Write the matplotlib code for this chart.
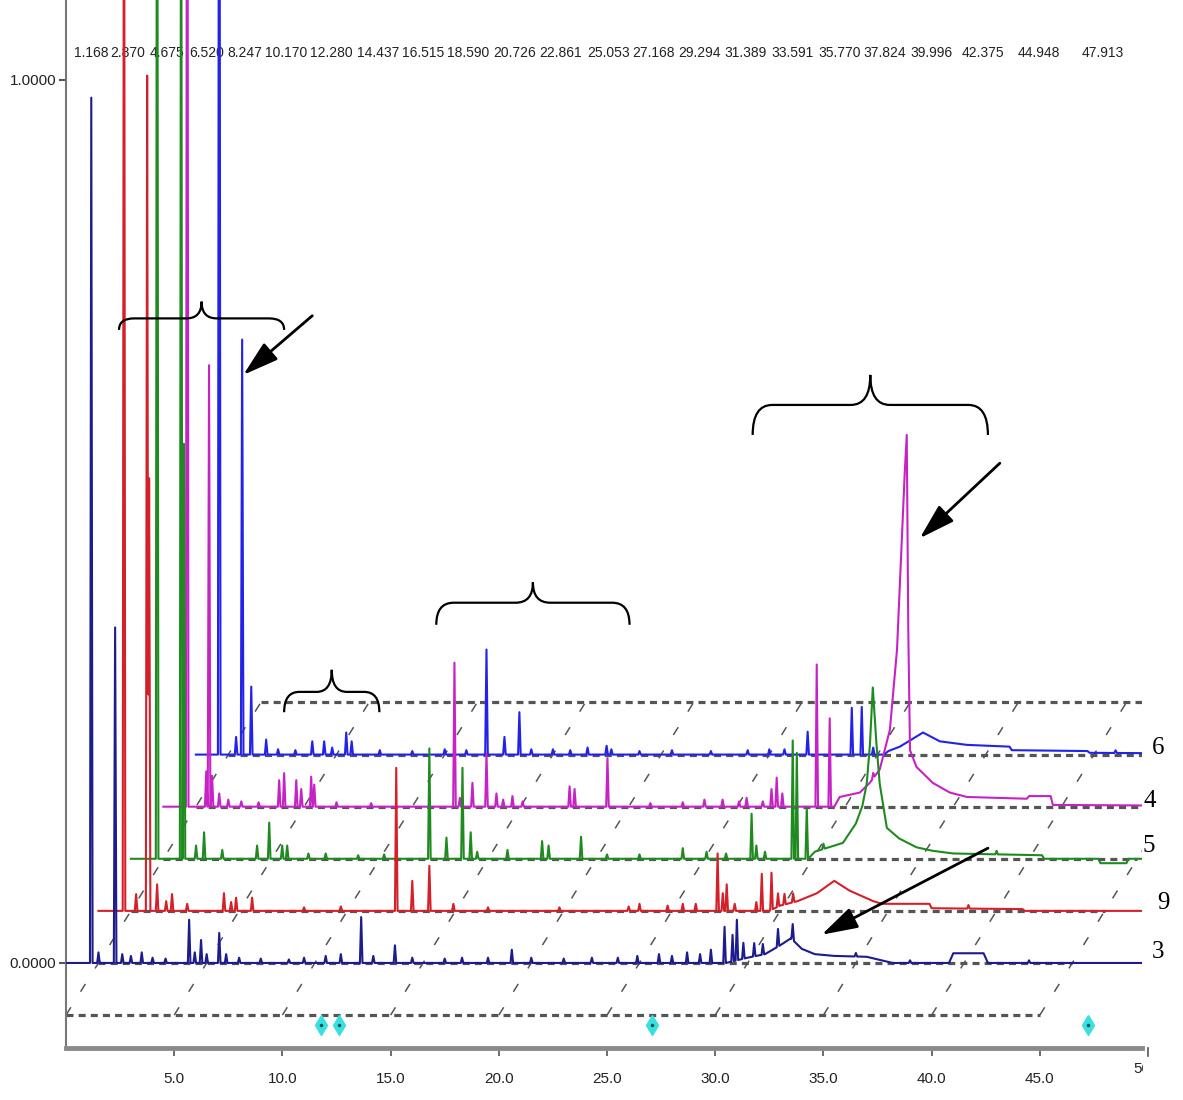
"""
Stacked GC chromatograms of five samples (3, 9, 5, 4, 6) drawn as a
pseudo-3D overlay: each run is shifted right and up from the one in front.
"""

import numpy as np
import matplotlib.pyplot as plt
from matplotlib.path import Path
from matplotlib.patches import PathPatch
from matplotlib.transforms import Bbox, TransformedBbox

plt.rcParams['font.family'] = ['Liberation Sans', 'DejaVu Sans']

# retention-time labels printed along the top
rt_labels = ['1.168', '2.870', '4.675', '6.520', '8.247', '10.170', '12.280',
             '14.437', '16.515', '18.590', '20.726', '22.861', '25.053',
             '27.168', '29.294', '31.389', '33.591', '35.770', '37.824',
             '39.996', '42.375', '44.948', '47.913']

sample_names = ['3', '9', '5', '4', '6']
sample_colors = ['#1c1c8e', '#d42028', '#1f8a1f', '#c622c6', '#2222e8']
# where each sample number sits right of the frame (min, lift above baseline)
name_x = [50.45, 50.7, 50.05, 50.1, 50.45]
name_dy = [0.012, 0.009, 0.015, 0.006, 0.008]

# --- sample 3 -------------------------------------------------------------
s3_peak_t = [1.168, 1.5, 2.27, 2.6, 3.0, 3.5, 4.0, 4.6, 5.69, 5.95, 6.24, 6.5,
             7.08, 7.4, 8.0, 9.0, 10.3, 11.0, 12.0, 12.7, 13.64, 14.2, 15.2,
             16.0, 17.5, 18.3, 19.5, 20.6, 21.5, 23.0, 24.3, 25.5, 26.4, 27.4,
             28.0, 28.7, 29.3, 29.8, 30.43, 30.8, 31.0, 31.3, 31.8, 32.2,
             32.9, 33.58, 36.5, 39.0, 44.5]
s3_peak_h = [0.98, 0.012, 0.38, 0.01, 0.008, 0.012, 0.006, 0.005, 0.049, 0.012,
             0.026, 0.01, 0.034, 0.01, 0.006, 0.005, 0.004, 0.006, 0.008, 0.01,
             0.052, 0.008, 0.02, 0.006, 0.005, 0.006, 0.006, 0.015, 0.006,
             0.005, 0.006, 0.006, 0.008, 0.01, 0.008, 0.012, 0.01, 0.015,
             0.041, 0.03, 0.046, 0.018, 0.015, 0.012, 0.02, 0.018, 0.004,
             0.003, 0.003]
s3_base_t = [0, 30.5, 31.5, 32.3, 33.0, 33.5, 34.0, 34.6, 35.5, 37.0, 38.2,
             40.8, 41.0, 42.4, 42.6, 55]
s3_base_v = [0, 0, 0.006, 0.01, 0.02, 0.028, 0.016, 0.01, 0.008, 0.007, 0.0,
             0.0, 0.011, 0.011, 0.0, 0]

# --- sample 9 -------------------------------------------------------------
s9_peak_t = [1.18, 1.74, 2.25, 2.34, 2.71, 3.13, 3.4, 4.1, 5.8, 6.13, 6.36,
             7.1, 9.5, 11.2, 13.76, 14.5, 15.29, 16.4, 18.0, 21.3, 24.5, 25.0,
             26.3, 27.0, 27.6, 28.61, 28.85, 29.03, 29.4, 30.4, 30.65, 31.1,
             31.4, 31.7, 32.1, 40.2]
s9_peak_h = [1.4, 0.019, 0.946, 0.49, 0.03, 0.011, 0.019, 0.008, 0.02, 0.01,
             0.015, 0.015, 0.004, 0.005, 0.162, 0.034, 0.051, 0.008, 0.004,
             0.004, 0.005, 0.008, 0.006, 0.008, 0.008, 0.065, 0.02, 0.03,
             0.008, 0.01, 0.042, 0.042, 0.015, 0.012, 0.01, 0.004]
s9_base_t = [0, 31.0, 31.5, 32.3, 33.2, 34.0, 34.7, 35.8, 36.2, 38.4, 38.5,
             42.7, 42.8, 55]
s9_base_v = [0, 0, 0.006, 0.011, 0.02, 0.034, 0.023, 0.011, 0.008, 0.008,
             0.003, 0.002, 0, 0]

# --- sample 5 -------------------------------------------------------------
s5_peak_t = [1.21, 2.32, 2.45, 3.01, 3.38, 4.22, 5.83, 6.39, 6.99, 7.22, 8.2,
             9.0, 10.5, 11.7, 13.79, 14.58, 15.32, 15.7, 16.0, 17.4, 19.0,
             19.3, 20.8, 22.0, 23.5, 25.5, 26.6, 27.5, 28.68, 28.9, 29.3,
             30.58, 30.77, 31.23, 32.0, 40.0]
s5_peak_h = [1.5, 1.3, 0.47, 0.015, 0.03, 0.01, 0.015, 0.041, 0.015, 0.015,
             0.006, 0.006, 0.004, 0.005, 0.125, 0.024, 0.103, 0.03, 0.008,
             0.01, 0.02, 0.015, 0.025, 0.005, 0.005, 0.012, 0.008, 0.006,
             0.051, 0.015, 0.008, 0.134, 0.12, 0.058, 0.006, 0.004]
s5_base_t = [0, 31.3, 31.6, 32.9, 33.5, 33.8, 34.0, 34.15, 34.28, 34.45, 34.6,
             34.93, 35.5, 36.3, 37.05, 38.0, 42.1, 42.2, 44.7, 44.8, 46.0,
             46.1, 55]
s5_base_v = [0, 0, 0.008, 0.018, 0.04, 0.06, 0.085, 0.13, 0.194, 0.13, 0.085,
             0.035, 0.023, 0.013, 0.009, 0.006, 0.004, 0, 0, -0.005, -0.005,
             0, 0]

# --- sample 4 -------------------------------------------------------------
s4_peak_t = [1.1, 1.98, 2.11, 2.25, 2.58, 3.0, 3.6, 4.4, 5.35, 5.58, 6.14,
             6.37, 6.83, 6.97, 8.0, 9.6, 13.45, 13.7, 14.28, 14.93, 15.39,
             15.7, 16.13, 16.6, 18.77, 19.0, 20.52, 22.5, 24.0, 25.0, 25.84,
             26.6, 26.95, 27.7, 28.1, 28.34, 28.6, 30.19, 30.79, 32.8]
s4_peak_h = [1.5, 0.04, 0.5, 0.035, 0.015, 0.008, 0.006, 0.005, 0.03, 0.038,
             0.03, 0.02, 0.034, 0.025, 0.005, 0.004, 0.163, 0.01, 0.027, 0.06,
             0.015, 0.008, 0.012, 0.006, 0.023, 0.02, 0.055, 0.004, 0.005,
             0.008, 0.008, 0.006, 0.01, 0.006, 0.02, 0.033, 0.015, 0.161,
             0.1, 0.006]
s4_base_t = [0, 31.0, 31.25, 32.18, 32.64, 33.1, 33.57, 33.9, 34.1, 34.26,
             34.35, 34.42, 34.5, 34.8, 35.55, 36.34, 37.13, 39.9, 40.0, 41.0,
             41.1, 55]
s4_base_v = [0, 0, 0.011, 0.016, 0.027, 0.042, 0.087, 0.178, 0.29, 0.38,
             0.421, 0.2, 0.064, 0.045, 0.027, 0.016, 0.011, 0.009, 0.012,
             0.012, 0.002, 0]

# --- sample 6 -------------------------------------------------------------
s6_peak_t = [1.08, 1.86, 2.14, 2.56, 3.25, 3.8, 4.6, 5.38, 5.93, 6.3, 6.95,
             7.2, 8.5, 10.0, 11.5, 12.5, 13.43, 14.26, 14.95, 15.5, 16.5,
             17.3, 18.1, 18.98, 19.2, 20.5, 22.0, 23.8, 25.5, 26.5, 27.2,
             28.27, 30.31, 30.77, 31.3, 42.5]
s6_peak_h = [1.5, 0.02, 0.47, 0.077, 0.017, 0.006, 0.005, 0.015, 0.015,
             0.008, 0.025, 0.015, 0.005, 0.004, 0.006, 0.005, 0.119, 0.02,
             0.048, 0.006, 0.006, 0.005, 0.008, 0.01, 0.006, 0.004, 0.005,
             0.004, 0.005, 0.006, 0.006, 0.026, 0.053, 0.054, 0.008, 0.003]
s6_base_t = [0, 31.8, 32.0, 32.53, 33.0, 33.6, 34.38, 35.63, 37.6, 37.7,
             41.2, 41.3, 55]
s6_base_v = [0, 0, 0.004, 0.009, 0.016, 0.025, 0.015, 0.011, 0.009, 0.005,
             0.004, 0.002, 0]

samples = [
    (s3_base_t, s3_base_v, s3_peak_t, s3_peak_h),
    (s9_base_t, s9_base_v, s9_peak_t, s9_peak_h),
    (s5_base_t, s5_base_v, s5_peak_t, s5_peak_h),
    (s4_base_t, s4_base_v, s4_peak_t, s4_peak_h),
    (s6_base_t, s6_base_v, s6_peak_t, s6_peak_h),
]

# internal-standard markers under the plot
marker_t = [11.79, 12.63, 27.06, 47.23]

x_step = 1.5     # min, shift between successive runs
y_step = 0.059   # response units, lift between successive runs
half_width = 0.06


def build_trace(base_t, base_v, peak_t, peak_h, w=half_width):
    pt = np.asarray(peak_t, float)
    ph = np.asarray(peak_h, float)
    knots = np.unique(np.concatenate([base_t, pt - w, pt, pt + w]))
    knots = knots[knots >= 0]
    level = np.interp(knots, base_t, base_v)
    for t0, h in zip(pt, ph):
        level += h * np.clip(1 - np.abs(knots - t0) / w, 0, None)
    return knots, level


def brace(ax, x0, x1, y_end, y_bar, y_tip, r):
    xm = (x0 + x1) / 2
    verts = [(x0, y_end), (x0, y_bar), (x0 + r, y_bar),
             (xm - r, y_bar), (xm, y_bar), (xm, y_tip),
             (xm, y_bar), (xm + r, y_bar),
             (x1 - r, y_bar), (x1, y_bar), (x1, y_end)]
    codes = [Path.MOVETO, Path.CURVE3, Path.CURVE3, Path.LINETO,
             Path.CURVE3, Path.CURVE3, Path.CURVE3, Path.CURVE3,
             Path.LINETO, Path.CURVE3, Path.CURVE3]
    ax.add_patch(PathPatch(Path(verts, codes), fill=False, color='black',
                           lw=1.6, zorder=6, clip_on=False))


fig = plt.figure(figsize=(11.83, 11.0), dpi=100)
ax = fig.add_axes([66 / 1183, 52 / 1100, 1076 / 1183, 1048 / 1100])
ax.set_xlim(0, 49.72)
ax.set_ylim(-0.0963, 1.0906)

# floor lines and depth lines of the 3-D box
for j in range(7):
    y = y_step * (j - 1)
    ax.plot([x_step * j, 45 + x_step * j], [y, y], color='#555555', lw=2.3,
            ls=(0, (2.2, 1.6)), zorder=1.5)
for x0 in np.arange(0, 50, 5):
    ax.plot([x0, x0 + 6 * x_step], [-y_step, 5 * y_step], color='#555555',
            lw=1.1, ls=(0, (6, 12)), zorder=1.5)

# chromatograms, back to front
for k in range(len(samples) - 1, -1, -1):
    t, v = build_trace(*samples[k])
    ax.plot(t + x_step * k, v + y_step * k, color=sample_colors[k], lw=1.5,
            zorder=3 + (len(samples) - k) * 0.1)
    ax.text(name_x[k], y_step * k + name_dy[k], sample_names[k], fontsize=18,
            family='Liberation Serif', ha='center', va='center',
            clip_on=False)

for lab in rt_labels:
    ax.text(float(lab), 1.031, lab, fontsize=10, ha='center', va='center',
            color='#222222', zorder=1)

ax.plot(marker_t, [-0.070] * len(marker_t), 'd', color='#38e0e0', ms=10,
        mec='#38e0e0', zorder=4)
ax.plot(marker_t, [-0.070] * len(marker_t), '.', color='#205050', ms=3,
        zorder=4.1)

# peak groups and arrows
brace(ax, 2.45, 10.08, 0.717, 0.730, 0.749, 0.7)
brace(ax, 10.08, 14.48, 0.284, 0.307, 0.332, 0.7)
brace(ax, 17.11, 26.04, 0.383, 0.408, 0.431, 0.8)
brace(ax, 31.73, 42.6, 0.598, 0.632, 0.666, 0.9)
arrow = dict(arrowstyle='-|>,head_length=1.0,head_width=0.3', color='black',
             lw=2, mutation_scale=22, shrinkA=0, shrinkB=0)
ax.annotate('', xy=(8.19, 0.666), xytext=(11.38, 0.733), arrowprops=arrow,
            zorder=6)
ax.annotate('', xy=(39.45, 0.481), xytext=(43.15, 0.566), arrowprops=arrow,
            zorder=6)
ax.annotate('', xy=(34.92, 0.032), xytext=(42.6, 0.130), arrowprops=arrow,
            zorder=6)

# axes styling
for side in ['top', 'right']:
    ax.spines[side].set_visible(False)
ax.spines['left'].set_color('#777777')
ax.spines['left'].set_linewidth(1.5)
ax.spines['bottom'].set_color('#8a8a8a')
ax.spines['bottom'].set_linewidth(3.5)
ax.set_xticks(np.arange(5, 50, 5))
ax.set_xticklabels([f'{v:.1f}' for v in np.arange(5, 50, 5)])
ax.set_yticks([0, 1])
ax.set_yticklabels(['0.0000', '1.0000'])
ax.tick_params(axis='x', length=6, width=1.2, color='#555555', pad=11,
               labelsize=11, labelcolor='#222222')
ax.tick_params(axis='y', length=5, width=1.5, color='#555555', pad=2,
               labelsize=11, labelcolor='#222222')

# last tick label runs off the right edge of the frame
edge = ax.text(50, -0.112, '50.0', fontsize=11, ha='center', va='top',
               color='#222222')
edge.set_clip_box(TransformedBbox(Bbox([[0, 0], [1143 / 1183, 1]]),
                                  fig.transFigure))
edge.set_clip_on(True)
ax.plot([50, 50], [-0.0963, -0.105], color='#555555', lw=1.2, clip_on=False)

fig.savefig('out.png', dpi=100)
